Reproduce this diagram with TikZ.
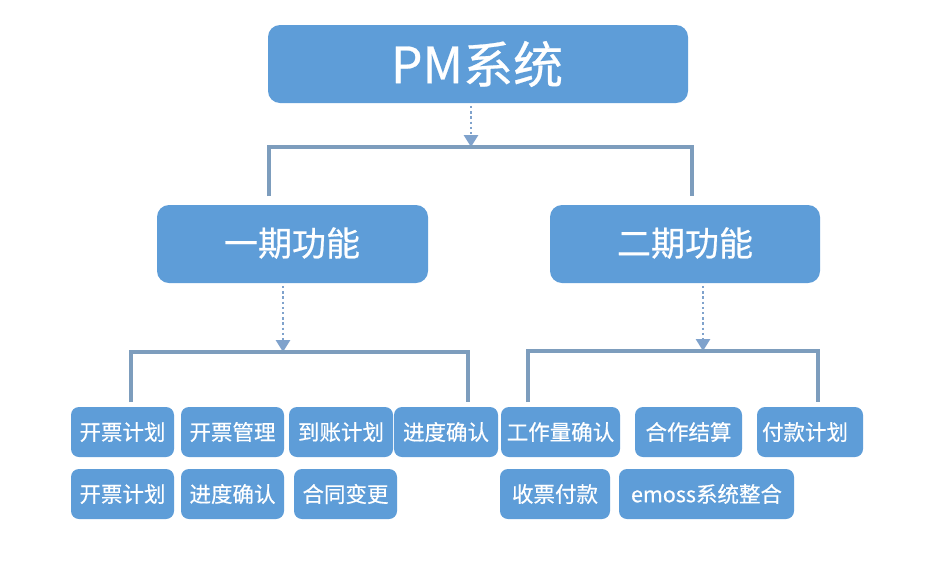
\documentclass[tikz,border=0pt]{standalone}
\usepackage{fontspec}
\setmainfont{Noto Sans CJK SC}[FakeBold=0.5]
\usetikzlibrary{arrows.meta}
\definecolor{boxblue}{HTML}{5E9DD8}
\definecolor{linec}{HTML}{7D9DBD}
\definecolor{arrc}{HTML}{7FA2CC}
\tikzset{
  bigbox/.style={fill=boxblue, rounded corners=12pt, text=white},
  leaf/.style={fill=boxblue, rounded corners=8pt, text=white, font=\fontsize{21.5}{21.5}\selectfont},
  tree/.style={draw=linec, line width=3.4pt},
  dotarrow/.style={draw=arrc, line width=2.8pt, dash pattern=on 2.4pt off 2.8pt, -{Triangle[width=14pt,length=12pt,sep=0pt]}},
}
\begin{document}
\begin{tikzpicture}[x=1pt,y=-1pt]
\useasboundingbox (0,0) rectangle (933,563);
\fill[white] (0,0) rectangle (933,563);
% main boxes
\path[bigbox] (268,25) rectangle (688,103);
\node[text=white, font=\fontsize{50}{50}\selectfont] (pm) at (477,64) {PM系统};
\coordinate (pmb) at (471,106);
\path[bigbox] (157,205) rectangle (428,283);
\node[text=white, font=\fontsize{34}{34}\selectfont] (p1) at (292,243) {一期功能};
\coordinate (p1b) at (283,286);
\path[bigbox] (550,205) rectangle (820,283);
\node[text=white, font=\fontsize{34}{34}\selectfont] (p2) at (685,243) {二期功能};
\coordinate (p2b) at (703,286);
% top connectors
\coordinate (t0) at (471,147);
\draw[dotarrow] (pmb) -- (t0);
\coordinate (tl) at (269,196);
\coordinate (tr) at (692,196);
\draw[tree] (tl) |- (t0) -| (tr);
% phase 1
\coordinate (a0) at (283,352);
\draw[dotarrow] (p1b) -- (a0);
\coordinate (al) at (131,402);
\coordinate (ar) at (468,402);
\draw[tree] (al) |- (a0) -| (ar);
% phase 2
\coordinate (b0) at (703,351);
\draw[dotarrow] (p2b) -- (b0);
\coordinate (bl) at (528,402);
\coordinate (br) at (818,402);
\draw[tree] (bl) |- (b0) -| (br);
% leaves row 1
\path[leaf] (71,407) rectangle (174,457) node[midway] (l1) {开票计划};
\path[leaf] (181,407) rectangle (284,457) node[midway] (l2) {开票管理};
\path[leaf] (289,407) rectangle (393,457) node[midway] (l3) {到账计划};
\path[leaf] (394,407) rectangle (498,457) node[midway] (l4) {进度确认};
\path[leaf] (501,407) rectangle (620,457) node[midway] (l5) {工作量确认};
\path[leaf] (635,407) rectangle (742,457) node[midway] (l6) {合作结算};
\path[leaf] (757,407) rectangle (863,457) node[midway,xshift=-5pt] (l7) {付款计划};
% leaves row 2
\path[leaf] (71,469) rectangle (174,519) node[midway] (m1) {开票计划};
\path[leaf] (181,469) rectangle (284,519) node[midway] (m2) {进度确认};
\path[leaf] (294,469) rectangle (397,519) node[midway] (m3) {合同变更};
\path[leaf] (500,469) rectangle (610,519) node[midway] (m4) {收票付款};
\path[leaf] (619,469) rectangle (794,519) node[midway] (m5) {emoss系统整合};
\end{tikzpicture}
\end{document}
